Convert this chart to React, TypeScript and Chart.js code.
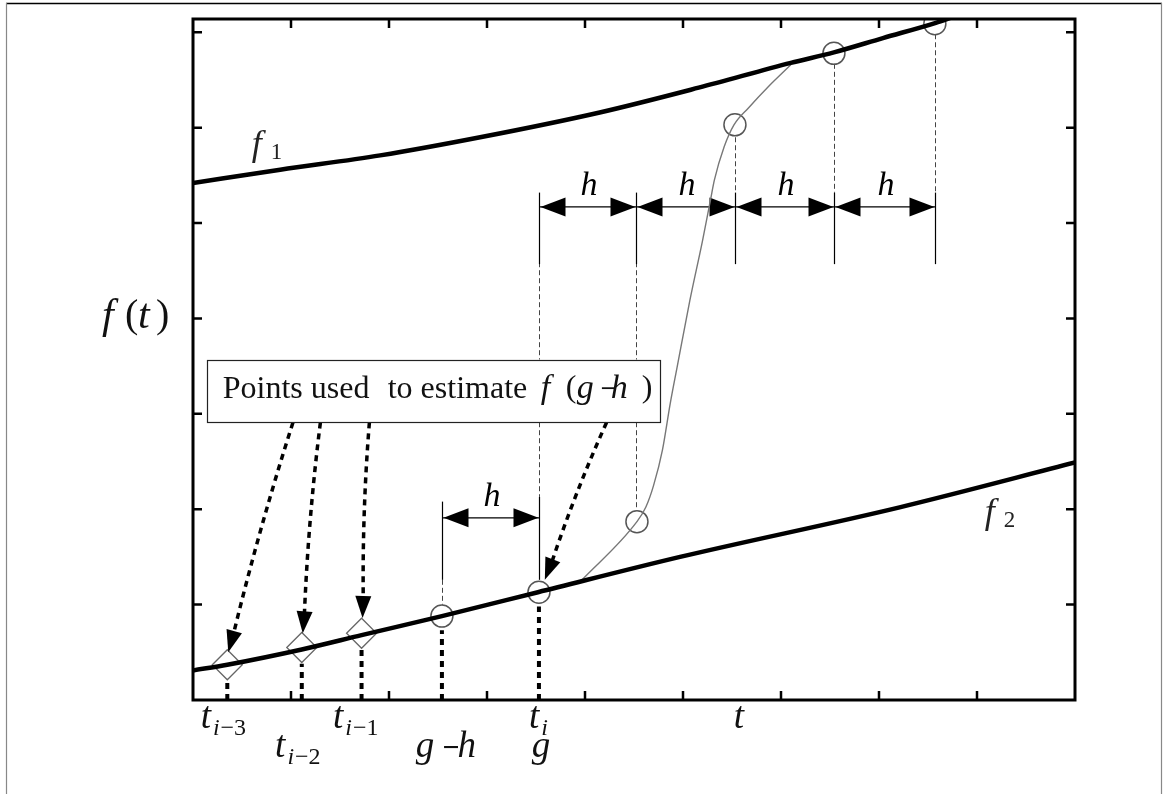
import React, { useEffect, useRef } from 'react';
import { Chart, registerables } from 'chart.js';
Chart.register(...registerables);

const W = 1163;
const H = 794;
const SERIF = '"Liberation Serif", "Times New Roman", serif';

// axis ranges & ticks
const xMin = 0, xMax = 9;
const yMin = 0, yMax = 7.14;
const xTicks = [1, 2, 3, 4, 5, 6, 7, 8];
const yTicks = [1, 2, 3, 4, 5, 6, 7];

// upper curve f1
const f1X = [0, 0.89, 1.91, 2.93, 4.15, 5.16, 6.10, 6.54, 7.04, 7.58, 7.75];
const f1Y = [5.42, 5.56, 5.71, 5.90, 6.16, 6.42, 6.68, 6.79, 6.94, 7.10, 7.16];
// lower curve f2
const f2X = [0, 0.35, 1.11, 1.72, 2.54, 3.52, 4.97, 7.21, 9.0];
const f2Y = [0.31, 0.37, 0.53, 0.68, 0.88, 1.13, 1.50, 2.02, 2.49];
// transition curve
const jumpX = [3.95, 4.53, 4.62, 4.70, 4.79, 4.87, 4.94, 5.07, 5.20, 5.28, 5.32, 5.42, 5.52, 5.67, 5.87, 6.10];
const jumpY = [1.24, 1.87, 2.02, 2.25, 2.62, 3.11, 3.49, 4.19, 4.82, 5.24, 5.45, 5.80, 6.03, 6.21, 6.43, 6.66];
// circle markers
const circleX = [2.54, 3.53, 4.53, 5.53, 6.54, 7.57];
const circleY = [0.88, 1.13, 1.87, 6.03, 6.78, 7.09];
// diamond markers
const diamondX = [0.35, 1.11, 1.72];
const diamondY = [0.37, 0.55, 0.70];
// thick dotted drop lines to the t axis
const dropX = [0.35, 1.11, 1.72, 2.54, 3.53];
const dropTop = [0.19, 0.38, 0.57, 0.73, 0.98];
// thin dashed guide lines
const guideX = [7.57, 6.54, 5.53, 4.52, 3.53, 2.54];
const guideY0 = [6.98, 6.67, 5.90, 4.59, 4.59, 1.26];
const guideY1 = [5.32, 5.32, 5.32, 1.99, 2.13, 1.00];
// thin solid extension lines
const extX = [3.53, 4.52, 5.53, 6.54, 7.57, 2.54, 3.53];
const extY0 = [5.32, 5.32, 5.32, 5.32, 5.32, 2.08, 2.13];
const extY1 = [4.57, 4.57, 4.57, 4.57, 4.57, 1.26, 1.26];
// dimension arrows (h)
const dimY = [5.17, 5.17, 5.17, 5.17, 1.91];
const dimX0 = [3.53, 4.52, 5.53, 6.54, 2.54];
const dimX1 = [4.52, 5.53, 6.54, 7.57, 3.53];
// dotted pointer arrows (from box to points)
const ptrX0 = [1.02, 1.30, 1.80, 4.22];
const ptrY0 = [2.91, 2.91, 2.91, 2.91];
const ptrX1 = [0.36, 1.12, 1.73, 3.59];
const ptrY1 = [0.50, 0.70, 0.86, 1.26];
// annotation box
const boxX = [0.14, 4.76];
const boxY = [3.57, 2.92];
// curve labels
const curveLabelText = ['1', '2'];
const curveLabelX = [0.60, 8.08];
const curveLabelY = [5.71, 1.86];
// t axis labels
const tLabelBase = ['t', 't', 't', 'g', 't', 'g', 't'];
const tLabelSub = ['i\u22123', 'i\u22122', 'i\u22121', '', 'i', '', ''];
const tLabelX = [0.31, 1.07, 1.66, 2.58, 3.53, 3.56, 5.58];
const tLabelRow = [0, 1, 0, 1, 0, 1, 0];

type Run = { t: string; it?: boolean; size: number; dy?: number; gap?: number; bold?: boolean };

function fontOf(r: Run) {
  return `${r.it ? 'italic ' : ''}${r.bold ? 'bold ' : ''}${r.size}px ${SERIF}`;
}
function runsWidth(ctx: CanvasRenderingContext2D, runs: Run[]) {
  let w = 0;
  runs.forEach((r) => {
    ctx.font = fontOf(r);
    w += ctx.measureText(r.t).width + (r.gap || 0);
  });
  return w;
}
function drawRuns(ctx: CanvasRenderingContext2D, x: number, y: number, runs: Run[]) {
  let cx = x;
  runs.forEach((r) => {
    ctx.font = fontOf(r);
    ctx.fillText(r.t, cx, y + (r.dy || 0));
    cx += ctx.measureText(r.t).width + (r.gap || 0);
  });
}
function head(ctx: CanvasRenderingContext2D, x1: number, y1: number, x2: number, y2: number, len: number, half: number) {
  const a = Math.atan2(y2 - y1, x2 - x1);
  const c = Math.cos(a), s = Math.sin(a);
  ctx.beginPath();
  ctx.moveTo(x2, y2);
  ctx.lineTo(x2 - len * c + half * s, y2 - len * s - half * c);
  ctx.lineTo(x2 - len * c - half * s, y2 - len * s + half * c);
  ctx.closePath();
  ctx.fill();
}

const annot = {
  id: 'annot',
  beforeDatasetsDraw(chart: any) {
    const { ctx, scales } = chart;
    const X = (v: number) => scales.x.getPixelForValue(v);
    const Y = (v: number) => scales.y.getPixelForValue(v);
    ctx.save();
    // guides
    ctx.strokeStyle = '#444';
    ctx.lineWidth = 1;
    ctx.setLineDash([5, 3]);
    guideX.forEach((gx, i) => {
      ctx.beginPath();
      ctx.moveTo(Math.round(X(gx)) + 0.5, Y(guideY0[i]));
      ctx.lineTo(Math.round(X(gx)) + 0.5, Y(guideY1[i]));
      ctx.stroke();
    });
    ctx.setLineDash([]);
    ctx.strokeStyle = '#000';
    ctx.lineWidth = 1.2;
    extX.forEach((ex, i) => {
      ctx.beginPath();
      ctx.moveTo(Math.round(X(ex)) + 0.5, Y(extY0[i]));
      ctx.lineTo(Math.round(X(ex)) + 0.5, Y(extY1[i]));
      ctx.stroke();
    });
    // dimension arrows
    ctx.fillStyle = '#000';
    dimY.forEach((dy, i) => {
      const y = Y(dy);
      const a = Math.round(X(dimX0[i])) + 0.5;
      const b = Math.round(X(dimX1[i])) + 0.5;
      ctx.beginPath();
      ctx.moveTo(a, y);
      ctx.lineTo(b, y);
      ctx.stroke();
      head(ctx, b, y, a + 1, y, 25, 9.5);
      head(ctx, a, y, b - 1, y, 25, 9.5);
      ctx.font = `italic 34px ${SERIF}`;
      ctx.textAlign = 'center';
      ctx.textBaseline = 'alphabetic';
      ctx.fillText('h', (a + b) / 2 + 1, y - 12);
    });
    ctx.restore();
  },
  afterDatasetsDraw(chart: any) {
    const { ctx, chartArea: ar, scales } = chart;
    const X = (v: number) => scales.x.getPixelForValue(v);
    const Y = (v: number) => scales.y.getPixelForValue(v);
    ctx.save();
    // outer frame
    ctx.setLineDash([]);
    ctx.strokeStyle = '#000';
    ctx.lineWidth = 1.5;
    ctx.beginPath();
    ctx.moveTo(6, 3.5);
    ctx.lineTo(1162, 3.5);
    ctx.stroke();
    ctx.strokeStyle = '#888';
    ctx.lineWidth = 1.2;
    ctx.beginPath();
    ctx.moveTo(6.5, 3);
    ctx.lineTo(6.5, H);
    ctx.moveTo(1161.5, 3);
    ctx.lineTo(1161.5, H);
    ctx.stroke();
    // plot frame
    ctx.strokeStyle = '#000';
    ctx.lineWidth = 3;
    ctx.strokeRect(ar.left, ar.top, ar.right - ar.left, ar.bottom - ar.top);
    ctx.lineWidth = 2.5;
    ctx.beginPath();
    xTicks.forEach((t) => {
      const x = X(t);
      ctx.moveTo(x, ar.bottom);
      ctx.lineTo(x, ar.bottom - 9);
      ctx.moveTo(x, ar.top);
      ctx.lineTo(x, ar.top + 9);
    });
    yTicks.forEach((t) => {
      const y = Y(t);
      ctx.moveTo(ar.left, y);
      ctx.lineTo(ar.left + 9, y);
      ctx.moveTo(ar.right, y);
      ctx.lineTo(ar.right - 9, y);
    });
    ctx.stroke();

    // pointer arrows
    ctx.fillStyle = '#000';
    ptrX0.forEach((px, i) => {
      const x0 = X(px), y0 = Y(ptrY0[i]);
      const x1 = X(ptrX1[i]), y1 = Y(ptrY1[i]);
      const a = Math.atan2(y1 - y0, x1 - x0);
      const ex = x1 - 20 * Math.cos(a), ey = y1 - 20 * Math.sin(a);
      ctx.strokeStyle = '#000';
      ctx.lineWidth = 3.5;
      ctx.setLineDash([6, 5]);
      ctx.beginPath();
      ctx.moveTo(x0, y0);
      ctx.quadraticCurveTo((x0 + ex) / 2 - 4, (y0 + ey) / 2, ex, ey);
      ctx.stroke();
      ctx.setLineDash([]);
      head(ctx, ex - 2 * Math.cos(a), ey - 2 * Math.sin(a), x1, y1, 22, 8);
    });

    // annotation box
    const bx0 = X(boxX[0]), bx1 = X(boxX[1]);
    const by0 = Y(boxY[0]), by1 = Y(boxY[1]);
    ctx.fillStyle = '#fff';
    ctx.fillRect(bx0, by0, bx1 - bx0, by1 - by0);
    ctx.strokeStyle = '#222';
    ctx.lineWidth = 1.2;
    ctx.strokeRect(Math.round(bx0) + 0.5, Math.round(by0) + 0.5, Math.round(bx1 - bx0), Math.round(by1 - by0));
    ctx.fillStyle = '#111';
    ctx.textAlign = 'left';
    ctx.textBaseline = 'alphabetic';
    const base = by0 + 38;
    ctx.font = `32px ${SERIF}`;
    ctx.fillText('Points used', bx0 + 16, base);
    ctx.fillText('to estimate', bx0 + 181, base);
    ctx.font = `italic 34px ${SERIF}`;
    ctx.fillText('f', bx0 + 334, base);
    ctx.fillText('g', bx0 + 370, base);
    ctx.fillText('h', bx0 + 404, base);
    ctx.font = `32px ${SERIF}`;
    ctx.fillText('(', bx0 + 359, base - 1);
    ctx.fillText(')', bx0 + 435, base - 1);
    ctx.font = `bold 26px ${SERIF}`;
    ctx.fillText('\u2212', bx0 + 394, base - 1);

    // y axis title
    const ty = Y(4) + 10;
    const tx = ar.left - 91;
    ctx.font = `italic 42px ${SERIF}`;
    ctx.fillText('f', tx, ty);
    ctx.fillText('t', tx + 36, ty);
    ctx.font = `40px ${SERIF}`;
    ctx.fillText('(', tx + 23, ty - 1);
    ctx.fillText(')', tx + 54, ty - 1);

    // curve labels
    ctx.fillStyle = '#222';
    curveLabelText.forEach((s, i) => {
      drawRuns(ctx, X(curveLabelX[i]), Y(curveLabelY[i]), [
        { t: 'f', it: true, size: 36, gap: 9 },
        { t: s, size: 23, dy: 4 },
      ]);
    });

    // t axis labels
    ctx.fillStyle = '#111';
    tLabelBase.forEach((b, i) => {
      let runs: Run[];
      if (b === 'g' && i === 3) {
        runs = [
          { t: 'g', it: true, size: 37, gap: 8 },
          { t: '\u2212', size: 30, bold: true, gap: -2 },
          { t: 'h', it: true, size: 37 },
        ];
      } else {
        runs = [{ t: b, it: true, size: 37, gap: 2 }];
        const sub = tLabelSub[i];
        if (sub) {
          runs.push({ t: sub[0], it: true, size: 24, dy: 7, gap: 1 });
          if (sub.length > 1) runs.push({ t: sub.slice(1), size: 24, dy: 7 });
        }
      }
      const w = runsWidth(ctx, runs);
      const y = ar.bottom + (tLabelRow[i] === 0 ? 28 : 57);
      drawRuns(ctx, X(tLabelX[i]) - w / 2, y, runs);
    });
    ctx.restore();
  },
};

const pts = (xs: number[], ys: number[]) => xs.map((x, i) => ({ x, y: ys[i] }));

export default function App() {
  const ref = useRef<HTMLCanvasElement>(null);
  useEffect(() => {
    const datasets: any[] = [
      {
        data: pts(f1X, f1Y), showLine: true, borderColor: '#000', borderWidth: 4.5,
        pointRadius: 0, cubicInterpolationMode: 'monotone',
      },
      {
        data: pts(f2X, f2Y), showLine: true, borderColor: '#000', borderWidth: 4.5,
        pointRadius: 0, cubicInterpolationMode: 'monotone',
      },
      {
        data: pts(jumpX, jumpY), showLine: true, borderColor: '#777', borderWidth: 1.4,
        pointRadius: 0, cubicInterpolationMode: 'monotone',
      },
      ...dropX.map((dx, i) => ({
        data: [{ x: dx, y: 0 }, { x: dx, y: dropTop[i] }], showLine: true, borderColor: '#000',
        borderWidth: 4, borderDash: [6, 5], borderCapStyle: 'butt', pointRadius: 0, clip: 4,
      })),
      {
        data: pts(circleX, circleY), showLine: false, pointStyle: 'circle', pointRadius: 11,
        borderColor: '#555', backgroundColor: 'rgba(0,0,0,0)', pointBorderWidth: 1.5,
      },
      {
        data: pts(diamondX, diamondY), showLine: false, pointStyle: 'rectRot', pointRadius: 15,
        borderColor: '#666', backgroundColor: 'rgba(0,0,0,0)', pointBorderWidth: 1.3,
      },
    ];
    const chart = new Chart(ref.current as HTMLCanvasElement, {
      type: 'scatter',
      data: { datasets },
      options: {
        responsive: false,
        animation: false,
        events: [],
        layout: { padding: { left: 193, top: 19, right: 88, bottom: 94 } },
        plugins: { legend: { display: false }, tooltip: { enabled: false } },
        scales: {
          x: { type: 'linear', min: xMin, max: xMax, display: false },
          y: { type: 'linear', min: yMin, max: yMax, display: false },
        },
      },
      plugins: [annot],
    } as any);
    return () => chart.destroy();
  }, []);
  return (
    <div style={{ position: 'fixed', left: 0, top: 0, width: W, height: H, background: '#fff' }}>
      <canvas ref={ref} width={W} height={H} style={{ display: 'block', width: W, height: H }} />
    </div>
  );
}
